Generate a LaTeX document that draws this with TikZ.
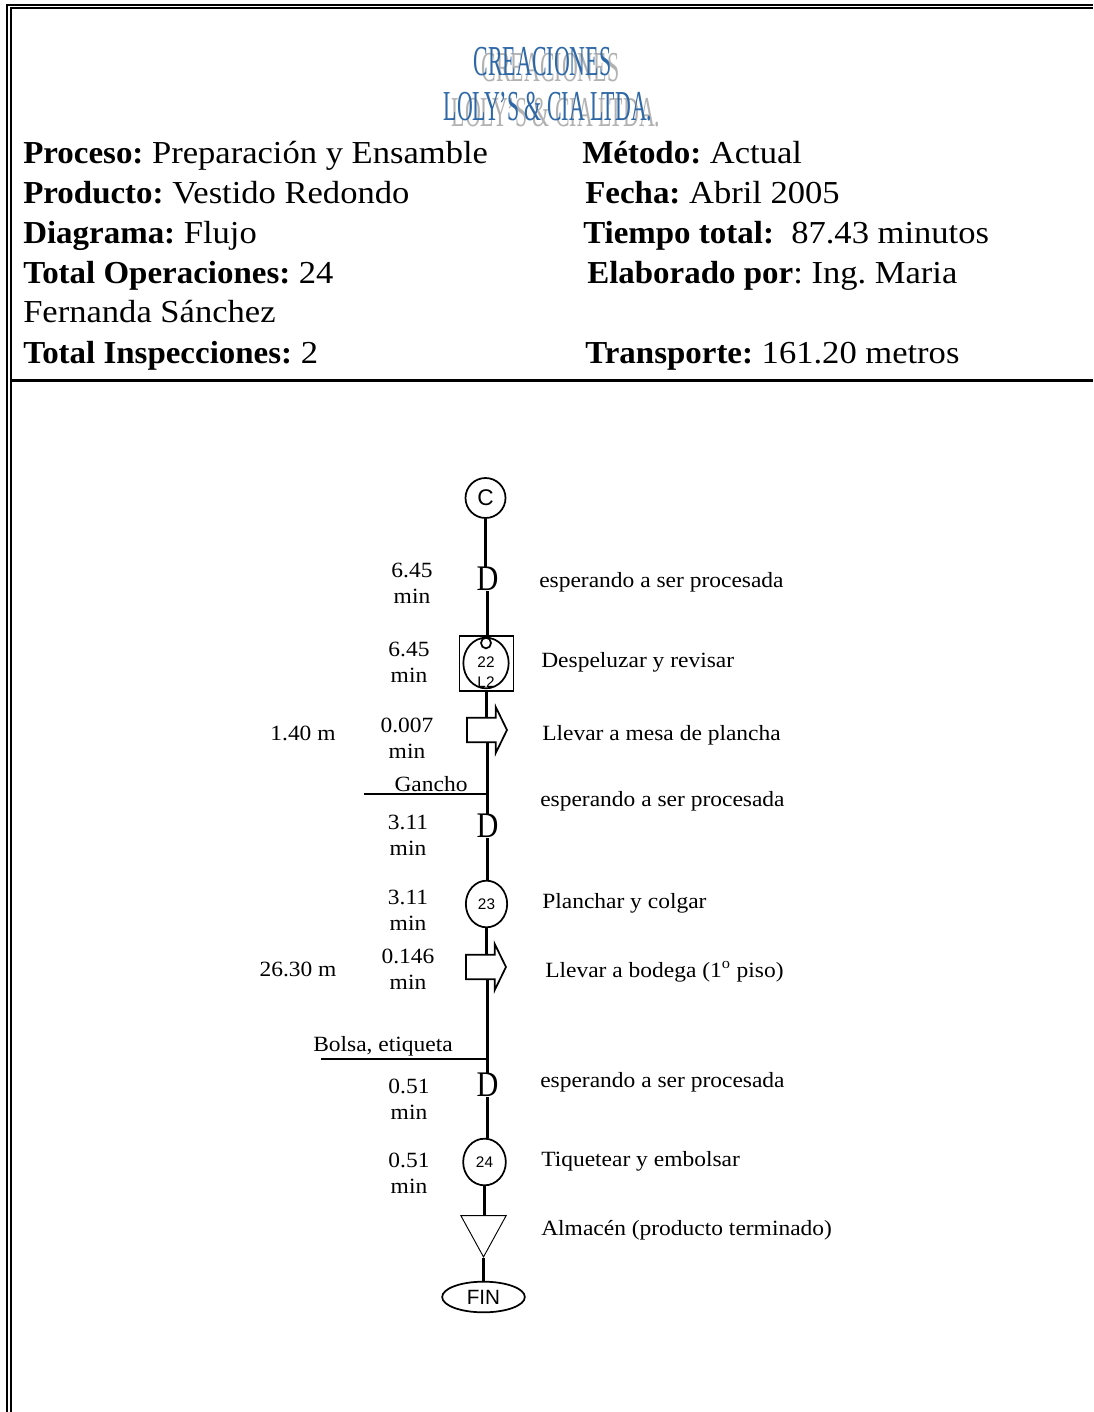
\documentclass[tikz,border=0pt]{standalone}
\usepackage{fontspec}
\setmainfont{Liberation Serif}[FakeStretch=1.08, BoldFeatures={FakeStretch=1.03}]
\setsansfont{Liberation Sans}
\newfontfamily\waitfont{Liberation Serif}[FakeStretch=0.84]
\usetikzlibrary{shapes.geometric,shapes.arrows}
\definecolor{logoblue}{HTML}{2F68A6}
\newcommand{\headsize}{\fontsize{24}{24}\selectfont}
\newcommand{\labelsize}{\fontsize{16.3}{19.5}\selectfont}
\frenchspacing
\begin{document}
\begin{tikzpicture}[
    x=0.75pt, y=-0.75pt,
    frame/.style={draw=black, line width=1.5pt},
    spine/.style={draw=black, line width=1.75pt},
    opcircle/.style={draw=black, ellipse, line width=1.3pt, inner sep=0pt, font=\sffamily\fontsize{11.5}{12}\selectfont},
    waiting/.style={inner sep=0pt, font=\waitfont\fontsize{27}{27}\selectfont},
    moving/.style={draw=black, single arrow, line width=1.3pt, minimum height=30pt, inner xsep=0pt, inner ysep=8.5pt,
        single arrow head extend=8pt, single arrow tip angle=128, single arrow head indent=0pt},
    storing/.style={draw=black, isosceles triangle, shape border rotate=-90, isosceles triangle stretches, line width=0.7pt,
        minimum width=34pt, minimum height=31pt, inner sep=0pt},
    head/.style={anchor=base west, inner sep=0pt, font=\headsize},
    timelabel/.style={align=center, inner sep=0pt, font=\labelsize, anchor=base},
    sidelabel/.style={anchor=base west, inner sep=0pt, font=\labelsize},
    logoline/.style={inner sep=0pt, font=\fontsize{32}{32}\selectfont, xscale=0.475, transform shape, text=logoblue},
    logoshadow/.style={logoline, text=black!30}
]
\useasboundingbox (0,0) rectangle (1093,1412);

% double frame and header rule
\draw[frame] (1093,5) -- (7,5) -- (7,1412);
\draw[frame] (1093,8.5) -- (10.5,8.5) -- (10.5,1412);
\draw[black, line width=2.6pt] (10,380.5) -- (1093,380.5);

% logo
\node[logoshadow] (shadowA) at (550.5,68) {CREACIONES};
\node[logoshadow] (shadowB) at (556,113) {LOLY'S \& CIA LTDA.};
\node[logoline] (logoA) at (542.5,62) {CREACIONES};
\node[logoline] (logoB) at (548,107) {LOLY'S \& CIA LTDA.};

% header text
\node[head] (proceso) at (23,164) {\textbf{Proceso:} Preparación y Ensamble};
\node[head] (producto) at (23,204) {\textbf{Producto:} Vestido Redondo};
\node[head] (diagrama) at (23,244) {\textbf{Diagrama:} Flujo};
\node[head] (operaciones) at (23,284) {\textbf{Total Operaciones:} 24};
\node[head] (fernanda) at (23,323) {Fernanda Sánchez};
\node[head] (inspecciones) at (23,363) {\textbf{Total Inspecciones:} 2};
\node[head] (metodo) at (582,164) {\textbf{Método:} Actual};
\node[head] (fecha) at (585,204) {\textbf{Fecha:} Abril 2005};
\node[head] (tiempo) at (583,244) {\textbf{Tiempo total:}\ \ 87.43 minutos};
\node[head] (elaborado) at (587,284) {\textbf{Elaborado por}: Ing. Maria};
\node[head] (transporte) at (585,363) {\textbf{Transporte:} 161.20 metros};

% flow symbols
\node[opcircle, minimum width=30pt, minimum height=30pt, font=\sffamily\fontsize{17}{17}\selectfont] (start) at (485.5,498) {C};
\node[waiting] (waitA) at (487.5,579) {D};
\node[draw=black, line width=1.1pt, minimum width=40.5pt, minimum height=41pt, inner sep=0pt] (box22) at (486.5,663.5) {};
\node[opcircle, minimum width=34pt, minimum height=38pt] (op22) at (486,663) {};
\node[inner sep=0pt, font=\sffamily\fontsize{11.5}{12}\selectfont] (num22) at (486,662) {22};
\node[opcircle, minimum width=7.5pt, minimum height=8pt] (mark22) at (486,643) {};
\node[inner sep=0pt, font=\sffamily\fontsize{11.5}{12}\selectfont] (insp22) at (486,682) {L2};
\node[moving] (moveA) at (484,730) {};
\node[waiting] (waitB) at (487.5,826) {D};
\node[opcircle, minimum width=31pt, minimum height=35pt] (op23) at (486.5,904) {23};
\node[moving] (moveB) at (483,967) {};
\node[waiting] (waitC) at (487.5,1085) {D};
\node[opcircle, minimum width=32pt, minimum height=35pt] (op24) at (484.5,1162) {24};
\node[storing] (store) at (483.5,1229) {};
\node[opcircle, minimum width=62pt, minimum height=23pt, font=\sffamily\fontsize{15.5}{15.5}\selectfont] (fin) at (483.5,1297) {FIN};

% connectors
\foreach \from/\to in {start.south/waitA.north, waitA.south/box22.north, box22.south/moveA.north,
    waitB.south/op23.north, op23.south/moveB.north, waitC.south/op24.north, op24.south/store.north, store.south/fin.north} {
    \draw[spine] (\from) -- (\from |- \to);
}
\draw[spine] (waitB.north |- moveA.south) -- (waitB.north);
\draw[spine] (waitC.north |- moveB.south) -- (waitC.north);

% material inputs
\coordinate (ganchoend) at (364,794);
\coordinate (ganchojoin) at (487.5,794);
\coordinate (bolsaend) at (321,1059);
\coordinate (bolsajoin) at (487.5,1059);
\draw[spine, line width=1.3pt] (ganchoend) -- (ganchojoin);
\draw[spine, line width=1.3pt] (bolsaend) -- (bolsajoin);
\node[timelabel] (gancho) at (431,791) {Gancho};
\node[timelabel] (bolsa) at (383,1051) {Bolsa, etiqueta};

% times, left of the line
\foreach \name/\x/\y/\lab in {tA/412/603/6.45, tB/409/682/6.45, tC/407/758/0.007, tD/408/855/3.11,
    tE/408/930/3.11, tF/408/989/0.146, tG/409/1119/0.51, tH/409/1193/0.51} {
    \node[timelabel] (\name) at (\x,\y) {\lab\\min};
}
\node[timelabel] (distA) at (303,740) {1.40 m};
\node[timelabel] (distB) at (298,976) {26.30 m};

% descriptions, right of the line
\foreach \name/\x/\y/\lab in {dA/539/587/esperando a ser procesada, dB/541/667/Despeluzar y revisar,
    dC/542/740/Llevar a mesa de plancha, dD/540/806/esperando a ser procesada, dE/542/908/Planchar y colgar,
    dF/545/977/{Llevar a bodega (1\textsuperscript{o} piso)}, dG/540/1087/esperando a ser procesada,
    dH/541/1166/Tiquetear y embolsar, dI/541/1235/Almacén (producto terminado)} {
    \node[sidelabel] (\name) at (\x,\y) {\lab};
}
\end{tikzpicture}
\end{document}
